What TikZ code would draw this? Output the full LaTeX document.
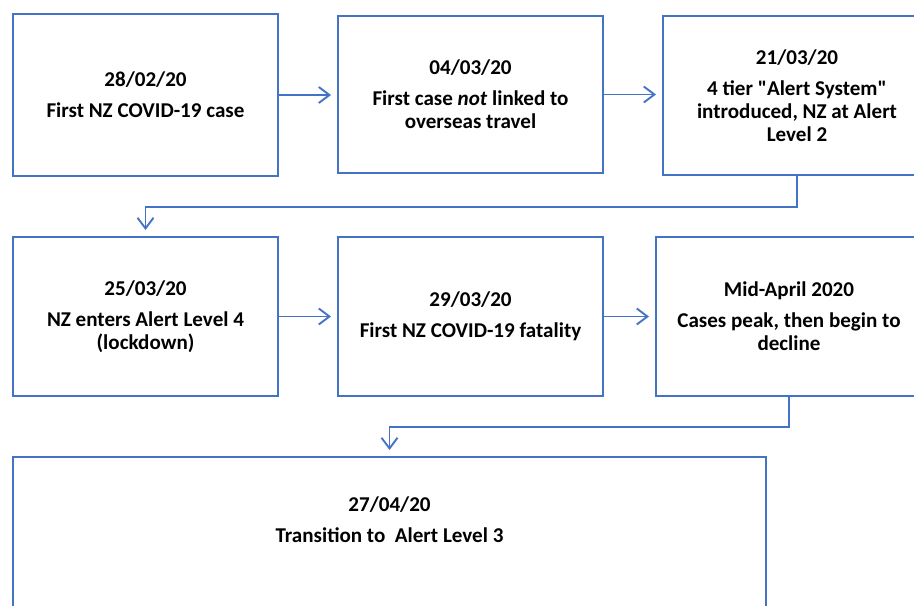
\documentclass[tikz,border=0pt]{standalone}
\usepackage{fontspec}
\setmainfont{Carlito}
\usetikzlibrary{arrows.meta}

\definecolor{officeblue}{RGB}{68,114,196}

\tikzset{every picture/.style={line width=0.75pt}}
\tikzset{
  eventbox/.style={draw=officeblue, line width=1.5pt, fill=white, inner sep=0pt,
    align=center, font=\bfseries\fontsize{15.8}{17.25}\selectfont},
  link/.style={draw=officeblue, line width=1.4pt, shorten >=4.5pt,
    -{Straight Barb[length=8pt,width=12pt,line width=1.4pt]}}
}

\begin{document}
\begin{tikzpicture}[x=0.75pt,y=0.75pt,yscale=-1,xscale=1]
\useasboundingbox (0,0) rectangle (914,606);
\clip (0,0) rectangle (914,606);

% First row
\node (firstcase) at (145.5,95) [eventbox, minimum width=198.75pt, minimum height=121.5pt] {28/02/20\\[6pt]First NZ COVID-19 case};
\node (community) at (470.5,94.5) [eventbox, minimum width=198.75pt, minimum height=117.75pt] {04/03/20\\[6pt]First case \textit{not} linked to\\overseas travel};
\node (alertsys) at (797,95.5) [eventbox, minimum width=201pt, minimum height=119.25pt] {21/03/20\\[6pt]4 tier \textquotedbl Alert System\textquotedbl\\introduced, NZ at Alert\\Level 2};

% Second row
\node (level4) at (145.5,316.5) [eventbox, minimum width=198.75pt, minimum height=119.25pt] {25/03/20\\[6pt]NZ enters Alert Level 4\\(lockdown)};
\node (fatality) at (470.5,316.5) [eventbox, minimum width=198.75pt, minimum height=119.25pt] {29/03/20\\[6pt]First NZ COVID-19 fatality};
\node (peak) at (789,316.5) [eventbox, minimum width=199.5pt, minimum height=119.25pt] {Mid-April 2020\\[6pt]Cases peak, then begin to\\decline};

% Third row
\node (level3) at (389.5,552) [eventbox, minimum width=564.75pt, minimum height=142.5pt] {};
\node (level3text) at (389.5,520) [align=center, font=\bfseries\fontsize{15.8}{17.25}\selectfont] {27/04/20\\[6pt]Transition to\ \ Alert Level 3};

% Connectors
\draw [link] (firstcase.east) -- (firstcase.east -| community.west);
\draw [link] (community.east) -- (community.east -| alertsys.west);
\draw [link] (alertsys.south) -- ++(0,31) -| (level4.north);
\draw [link] (level4.east) -- (level4.east -| fatality.west);
\draw [link] (fatality.east) -- (fatality.east -| peak.west);
\draw [link] (peak.south) -- ++(0,30) -| (level3.north);

\end{tikzpicture}
\end{document}
